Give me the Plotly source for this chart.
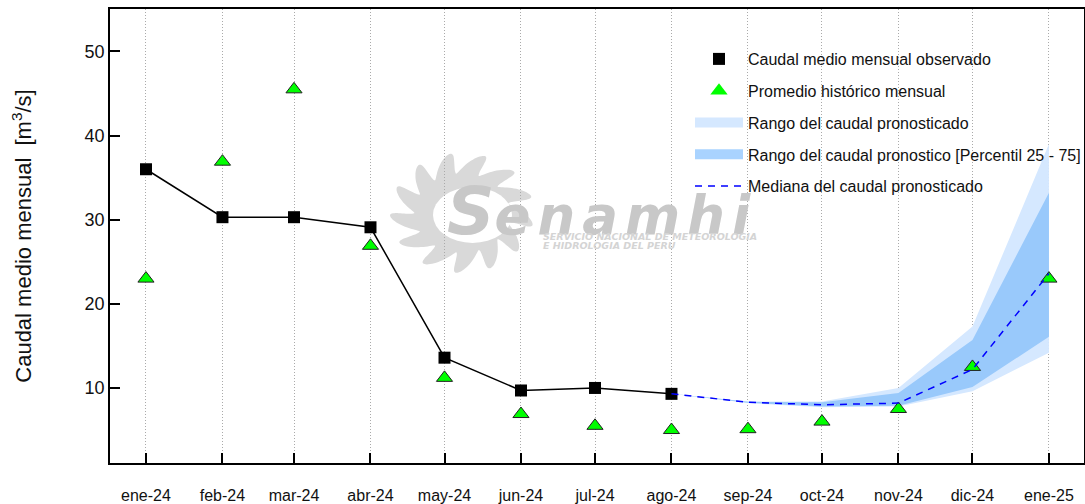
import numpy as np
import plotly.graph_objects as go

W, H = 1085, 504
M_L, M_R, M_T, M_B = 110, 1, 9, 41

# meses
fechas = ["2024-01-01", "2024-02-01", "2024-03-01", "2024-04-01", "2024-05-01", "2024-06-01", "2024-07-01",
          "2024-08-01", "2024-09-01", "2024-10-01", "2024-11-01", "2024-12-01", "2025-01-01"]
etiquetas = ["ene-24", "feb-24", "mar-24", "abr-24", "may-24", "jun-24", "jul-24",
             "ago-24", "sep-24", "oct-24", "nov-24", "dic-24", "ene-25"]

observado = [36.0, 30.3, 30.3, 29.1, 13.6, 9.7, 10.0, 9.3]
historico = [23.0, 36.9, 45.5, 26.9, 11.2, 6.9, 5.5, 5.0, 5.1, 6.0, 7.5, 12.5, 23.0]

# pronostico desde ago-24
fechas_pron = fechas[7:]
mediana = [9.3, 8.3, 8.0, 8.2, 12.2, 23.6]
rango_sup = [9.3, 8.4, 8.4, 10.0, 17.3, 39.0]
rango_inf = [9.3, 8.2, 7.7, 7.8, 9.6, 14.2]
p75 = [9.3, 8.35, 8.3, 9.4, 15.7, 33.2]
p25 = [9.3, 8.25, 7.8, 7.9, 10.1, 16.1]

NEGRO = "#000000"
VERDE = "#00ff00"
AZUL_CLARO = "#d5e8ff"
AZUL_MEDIO = "#99c9fb"
AZUL = "#0000ff"


# paper va de borde a borde del area de trazado
def px_x(x):
    return (x - M_L) / (W - M_L - M_R)


def px_y(y):
    return (H - M_B - y) / (H - M_T - M_B)


def sol_path(cx, cy, rx, ry, base=0.66, n=13, giro=0.2):
    # logo: sol con rayos curvos
    ang = np.linspace(0, 2 * np.pi, 521)
    f = (0.5 + 0.5 * np.cos(n * ang)) ** 0.8
    r = base + (1 - base) * f
    theta = ang + giro * f
    xs = cx + rx * r * np.cos(theta)
    ys = cy + ry * r * np.sin(theta)
    puntos = [f"{px_x(a):.4f},{px_y(b):.4f}" for a, b in zip(xs, ys)]
    return "M" + " L".join(puntos) + " Z"


def aviso(texto, x, y, size, color):
    return dict(text=texto, x=px_x(x), y=px_y(y), xref="paper", yref="paper", xanchor="left", yanchor="middle",
                showarrow=False, font=dict(size=size, color=color, family="DejaVu Sans"))


fig = go.Figure()

# solo para la leyenda
fig.add_trace(go.Scatter(x=[None], y=[None], mode="markers", marker=dict(symbol="square", size=12, color=NEGRO),
                         name="Caudal medio mensual observado", legendgroup="a"))
fig.add_trace(go.Scatter(x=[None], y=[None], mode="markers", marker=dict(symbol="triangle-up", size=15, color=VERDE),
                         name="Promedio histórico mensual", legendgroup="b"))
fig.add_trace(go.Scatter(x=[None], y=[None], mode="lines", line=dict(color=AZUL_CLARO, width=10),
                         name="Rango del caudal pronosticado", legendgroup="c"))
fig.add_trace(go.Scatter(x=[None], y=[None], mode="lines", line=dict(color="#a9d3ff", width=10),
                         name="Rango del caudal pronostico [Percentil 25 - 75]", legendgroup="d"))

fig.add_trace(go.Scatter(x=fechas_pron + fechas_pron[::-1], y=rango_sup + rango_inf[::-1], mode="lines", fill="toself",
                         fillcolor=AZUL_CLARO, line=dict(width=0), showlegend=False, hoverinfo="skip"))
fig.add_trace(go.Scatter(x=fechas_pron + fechas_pron[::-1], y=p75 + p25[::-1], mode="lines", fill="toself",
                         fillcolor=AZUL_MEDIO, line=dict(width=0), showlegend=False, hoverinfo="skip"))
fig.add_trace(go.Scatter(x=fechas, y=historico, mode="markers", showlegend=False,
                         marker=dict(symbol="triangle-up", size=14, color=VERDE, line=dict(color="#222222", width=1))))
fig.add_trace(go.Scatter(x=fechas[:8], y=observado, mode="lines+markers", line=dict(color=NEGRO, width=1.5),
                         marker=dict(symbol="square", size=12, color=NEGRO), showlegend=False))
fig.add_trace(go.Scatter(x=fechas_pron, y=mediana, mode="lines", line=dict(color=AZUL, width=1.5, dash="7px,6px"),
                         name="Mediana del caudal pronosticado", legendgroup="e"))

fig.update_layout(
    width=W,
    height=H,
    margin=dict(l=M_L, r=M_R, t=M_T, b=M_B, autoexpand=False),
    paper_bgcolor="white",
    plot_bgcolor="white",
    font=dict(family="Liberation Sans, Arial, sans-serif", color="#111111"),
    legend=dict(x=px_x(690), y=px_y(42), xanchor="left", yanchor="top", bgcolor="rgba(0,0,0,0)", font=dict(size=16),
                itemwidth=48, tracegroupgap=8, traceorder="grouped"),
    xaxis=dict(type="date", range=["2023-12-17 10:00", "2025-01-15 05:00"], tickmode="array", tickvals=fechas,
               ticktext=etiquetas, ticks="inside", ticklen=10, tickwidth=1.5, tickcolor=NEGRO, tickfont=dict(size=16),
               ticklabelstandoff=17, automargin=False, showgrid=True, gridcolor="#aaaaaa", griddash="1px,2px",
               gridwidth=1, zeroline=False, showline=True, linecolor=NEGRO, linewidth=1.5, mirror=True),
    yaxis=dict(range=[1.08, 55.05], tickvals=[10, 20, 30, 40, 50], ticks="inside", ticklen=10, tickwidth=1.5,
               tickcolor=NEGRO, tickfont=dict(size=18), showgrid=False, zeroline=False,
               showline=True, linecolor=NEGRO, linewidth=1.5, mirror=True,
               title=dict(text="Caudal medio mensual  [m<sup>3</sup>/s]", font=dict(size=22), standoff=47)),
    shapes=[dict(type="path", xref="paper", yref="paper", path=sol_path(462, 213, 72, 60), fillcolor="#d9d9d9",
                 line=dict(width=0), layer="below"),
            dict(type="circle", xref="paper", yref="paper", x0=px_x(433), x1=px_x(512), y0=px_y(243), y1=px_y(187),
                 fillcolor="white", line=dict(width=0), layer="below")],
    annotations=[
        aviso('<b><i><span style="font-size:66px">S</span><span style="letter-spacing:7px">enamhi</span></i></b>',
              445, 211, 53, "#c8c8c8"),
        aviso("<b><i>SERVICIO NACIONAL DE METEOROLOGIA</i></b>", 541, 236, 9.5, "#d4d4d4"),
        aviso("<b><i>E HIDROLOGIA DEL PERU</i></b>", 541, 245, 9.5, "#d4d4d4"),
    ],
)

# la pagina trae margen de 8px en el body
fig.write_html("out.html", config=dict(displayModeBar=False), post_script="document.body.style.margin='0';")
